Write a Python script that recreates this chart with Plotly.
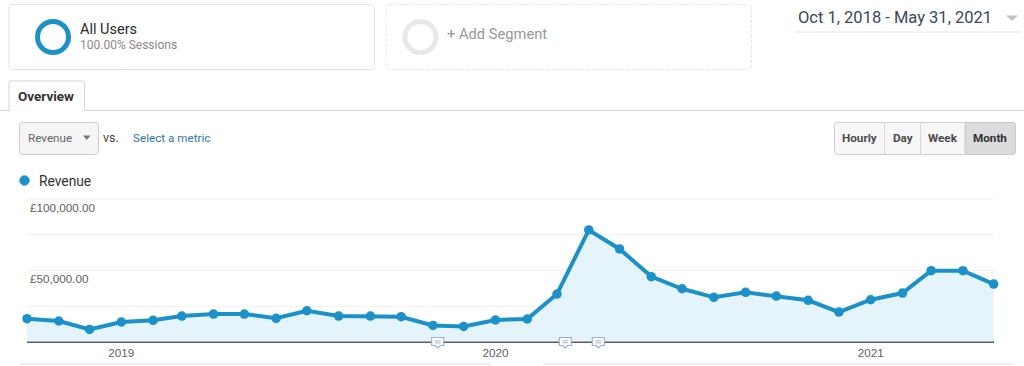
import plotly.graph_objects as go

W, H = 1024, 366

months = ["2018-10-01", "2018-11-01", "2018-12-01", "2019-01-01", "2019-02-01", "2019-03-01",
          "2019-04-01", "2019-05-01", "2019-06-01", "2019-07-01", "2019-08-01", "2019-09-01",
          "2019-10-01", "2019-11-01", "2019-12-01", "2020-01-01", "2020-02-01", "2020-03-01",
          "2020-04-01", "2020-05-01", "2020-06-01", "2020-07-01", "2020-08-01", "2020-09-01",
          "2020-10-01", "2020-11-01", "2020-12-01", "2021-01-01", "2021-02-01", "2021-03-01",
          "2021-04-01", "2021-05-01"]
revenue = [16100, 14500, 8600, 13800, 15000, 18000, 19400, 19400, 16400, 21700, 18000, 18000,
           17500, 11400, 10700, 15200, 15900, 33400, 78300, 65000, 45600, 37100, 31100, 34600,
           32000, 29000, 20800, 29400, 34100, 49800, 49800, 40400]
y_ticks = [0, 25000, 50000, 75000, 100000]
y_tick_labels = ["", "", "£50,000.00", "", "£100,000.00"]
x_ticks = ["2019-01-01", "2020-01-01", "2021-01-01"]
x_tick_labels = ["2019", "2020", "2021"]
periods = ["Hourly", "Day", "Week", "Month"]

BLUE = "#1a92c9"
UI = "Roboto, Arial, sans-serif"
CH = "Liberation Sans, Arial, sans-serif"


def X(p):
    return p / W


def Y(p):
    return 1 - p / H


def path_px(pts):
    return "M" + " L".join(f"{X(a):.5f},{Y(b):.5f}" for a, b in pts) + " Z"


shapes = []
annots = []


def rect(x0, y0, x1, y1, line="#e3e3e3", fill="rgba(0,0,0,0)", dash="solid", w=1, r=3):
    p = (f"M{X(x0 + r):.5f},{Y(y0):.5f} L{X(x1 - r):.5f},{Y(y0):.5f} "
         f"Q{X(x1):.5f},{Y(y0):.5f} {X(x1):.5f},{Y(y0 + r):.5f} "
         f"L{X(x1):.5f},{Y(y1 - r):.5f} Q{X(x1):.5f},{Y(y1):.5f} {X(x1 - r):.5f},{Y(y1):.5f} "
         f"L{X(x0 + r):.5f},{Y(y1):.5f} Q{X(x0):.5f},{Y(y1):.5f} {X(x0):.5f},{Y(y1 - r):.5f} "
         f"L{X(x0):.5f},{Y(y0 + r):.5f} Q{X(x0):.5f},{Y(y0):.5f} {X(x0 + r):.5f},{Y(y0):.5f} Z")
    shapes.append(dict(type="path", xref="paper", yref="paper", path=p,
                       line=dict(color=line, width=w, dash=dash), fillcolor=fill, layer="below"))


def hline(x0, x1, y, color, w=1, layer="below"):
    shapes.append(dict(type="line", xref="paper", yref="paper", x0=X(x0), x1=X(x1), y0=Y(y), y1=Y(y),
                       line=dict(color=color, width=w), layer=layer))


def vline(x, y0, y1, color, w=1):
    shapes.append(dict(type="line", xref="paper", yref="paper", x0=X(x), x1=X(x), y0=Y(y0), y1=Y(y1),
                       line=dict(color=color, width=w), layer="below"))


def circle(cx, cy, r, line, w, fill="rgba(0,0,0,0)"):
    shapes.append(dict(type="circle", xref="paper", yref="paper", x0=X(cx - r), x1=X(cx + r),
                       y0=Y(cy + r), y1=Y(cy - r), line=dict(color=line, width=w), fillcolor=fill))


def tri(x0, x1, y0, y1, color):
    shapes.append(dict(type="path", xref="paper", yref="paper",
                       path=path_px([(x0, y0), (x1, y0), ((x0 + x1) / 2, y1)]),
                       fillcolor=color, line=dict(width=0)))


def text(x, y, s, size, color, anchor="left", font=UI):
    annots.append(dict(xref="paper", yref="paper", x=X(x), y=Y(y), text=s, showarrow=False,
                       xanchor=anchor, yanchor="middle", borderpad=0, borderwidth=0,
                       font=dict(family=font, size=size, color=color)))


# Segment cards
rect(9, 4.5, 374.5, 69.5, r=4)
rect(386, 4.5, 751.5, 69.5, line="#e6e6e6", dash="3px,2px", r=4)
circle(53, 37, 15.5, BLUE, 5)
circle(420.5, 37, 15.5, "#e8e8e8", 5)
text(80, 30, "All Users", 14.5, "#2b2b2b")
text(80, 45.5, "100.00% Sessions", 12, "#8a8a8a")
text(447, 34.5, "+ Add Segment", 14.7, "#999999")

# Date range
text(798, 17.5, "Oct 1, 2018 - May 31, 2021", 16.5, "#3a4857")
tri(1006, 1018, 15.5, 21, "#c4c4c4")
hline(795, 1021, 32, "#eeeeee", 1.5)

# Tab strip
hline(0, 1024, 110.5, "#d4d4d4", 1)
rect(9, 81, 84.5, 110.5, line="#d4d4d4", fill="#ffffff", r=2)
hline(10, 84, 110.5, "#ffffff", 1)
text(18, 96, "<b>Overview</b>", 13.5, "#333333")

# Metric picker
rect(19.5, 122.5, 98.5, 154.5, line="#cfcfcf", fill="#f5f5f5")
text(28, 138, "Revenue", 11.7, "#666666")
tri(83, 90.5, 135.5, 140, "#777777")
text(103, 137, "vs.", 12.5, "#444444")
text(132.5, 138, "Select a metric", 11.7, "#2f78b0")

# Period buttons
rect(834.5, 122.5, 1015.5, 154.5, line="#d0d0d0", fill="#f7f7f7")
rect(965, 122.5, 1015.5, 154.5, line="#c8c8c8", fill="#dcdcdc")
vline(884.5, 122.5, 154.5, "#d8d8d8")
vline(920.5, 122.5, 154.5, "#d8d8d8")
for label, cx, col in zip(periods, [859, 902.5, 942.5, 990], ["#4a4a4a", "#4a4a4a", "#4a4a4a", "#333333"]):
    text(cx, 138, f"<b>{label}</b>", 11.7, col, anchor="center")

# Legend
circle(24.5, 180.5, 4.7, BLUE, 1, BLUE)
text(39, 181, "Revenue", 13.8, "#333333")

# Top edge of the plot area
hline(27, 993.7, 199, "#f2f2f2", 1)

# Lower rule
hline(20, 491, 364, "#dddddd", 1)
hline(543, 1014, 364, "#dddddd", 1)

# Annotation bubbles on the time axis
for cx in [437.7, 565.3, 598.3]:
    shapes.append(dict(type="path", xref="paper", yref="paper",
                       path=path_px([(cx - 6, 337.5), (cx + 6, 337.5), (cx + 6, 345.5), (cx + 2.5, 345.5),
                                     (cx, 348), (cx - 2.5, 345.5), (cx - 6, 345.5)]),
                       fillcolor="#ffffff", line=dict(color="#8fb9d8", width=1.2)))
    hline(cx - 3, cx + 3, 340.8, "#b5b5b5", 1, layer="above")
    hline(cx - 3, cx + 3, 342.8, "#b5b5b5", 1, layer="above")

fig = go.Figure(go.Scatter(
    x=months, y=revenue, mode="lines+markers", fill="tozeroy", fillcolor="#e5f3fa",
    line=dict(color=BLUE, width=4), marker=dict(color=BLUE, size=9.5),
    cliponaxis=False, hoverinfo="x+y", showlegend=False))

fig.update_layout(
    width=W, height=H, autosize=False, margin=dict(l=0, r=0, t=0, b=0, pad=0),
    paper_bgcolor="#ffffff", plot_bgcolor="#ffffff", shapes=shapes, annotations=annots,
    xaxis=dict(type="date", domain=[27 / W, 993.7 / W], range=["2018-10-01", "2021-05-01"],
               tickmode="array", tickvals=x_ticks, ticktext=x_tick_labels, showgrid=False,
               zeroline=False, showline=False, ticks="", anchor="y", ticklabelstandoff=3,
               tickfont=dict(family=CH, size=11.7, color="#5f5f5f")),
    yaxis=dict(domain=[1 - 341.7 / H, 1 - 198.3 / H], range=[0, 100500], tickmode="array",
               tickvals=y_ticks, ticktext=y_tick_labels, gridcolor="#f2f2f2", gridwidth=1,
               zeroline=True, zerolinecolor="#5a5a5a", zerolinewidth=1.5, showline=False, ticks="",
               ticklabelposition="inside", anchor="x", ticklabelstandoff=0, ticklabelshift=9,
               tickfont=dict(family=CH, size=11.7, color="#5f5f5f")),
)

fig.write_html("out.html", config={"displayModeBar": False},
               post_script="document.body.style.margin='0';")
